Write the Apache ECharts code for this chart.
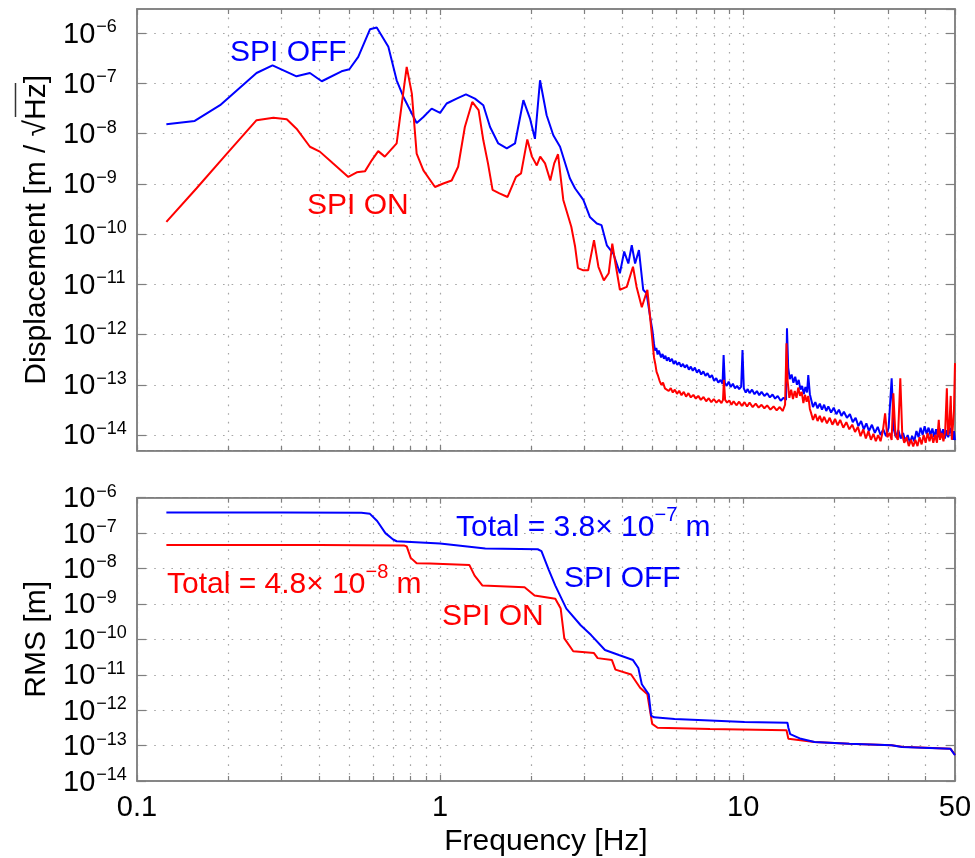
<!DOCTYPE html>
<html><head><meta charset="utf-8">
<script src="https://cdn.jsdelivr.net/npm/echarts@6/dist/echarts.min.js"></script>
<style>html,body{margin:0;padding:0;background:#fff}#c{width:975px;height:858px}</style>
</head><body><div id="c"></div>
<script>
// ---------- DATA ----------
// Top panel: displacement spectrum [m/sqrt(Hz)], pairs [frequency Hz, value]
const psdOff = [[0.125,1.55e-8],[0.155,1.8e-8],[0.188,3.7e-8],[0.248,1.62e-7],[0.28,2.29e-7],[0.336,1.39e-7],[0.372,1.62e-7],[0.407,1.11e-7],[0.473,1.75e-7],[0.502,1.92e-7],[0.537,3.39e-7],[0.587,1.2e-6],[0.618,1.3e-6],[0.675,5.4e-7],[0.719,1.16e-7],[0.757,5.4e-8],[0.837,1.64e-8],[0.881,2.16e-8],[0.938,3.16e-8],[1.0,2.6e-8],[1.051,4.0e-8],[1.134,5.0e-8],[1.217,6.1e-8],[1.303,5.0e-8],[1.389,3.7e-8],[1.462,1.36e-8],[1.556,6.4e-9],[1.66,5.1e-9],[1.767,6.4e-9],[1.883,4.65e-8],[1.98,2.0e-8],[2.056,7.9e-9],[2.137,1.16e-7],[2.247,2.33e-8],[2.364,9.3e-9],[2.488,5.5e-9],[2.68,1.3e-9],[2.79,8.1e-10],[2.97,4.8e-10],[3.12,2.2e-10],[3.29,1.63e-10],[3.41,1.51e-10],[3.55,6.0e-11],[3.73,4.1e-11],[3.92,1.66e-11],[4.05,4.5e-11],[4.18,2.6e-11],[4.29,6.0e-11],[4.40,2.6e-11],[4.53,4.8e-11],[4.68,7.8e-12],[4.80,6.6e-12],[4.93,2.3e-12],
[5.02,1.2e-12],[5.08,6.5e-13],[5.12,4.8e-13],[5.17,5.4e-13],[5.22,4.0e-13],[5.27,4.8e-13],[5.31,4.4e-13],[5.36,3.5e-13],[5.42,4.1e-13],[5.48,3.3e-13],[5.54,3.8e-13],[5.6,3.0e-13],[5.67,3.5e-13],[5.74,2.9e-13],[5.82,3.3e-13],[5.9,2.6e-13],[5.98,3.0e-13],[6.06,2.5e-13],[6.15,2.8e-13],[6.24,2.3e-13],[6.33,2.6e-13],[6.42,2.2e-13],[6.52,2.5e-13],[6.62,2.0e-13],[6.72,2.3e-13],[6.82,1.9e-13],[6.93,2.2e-13],[7.04,1.75e-13],[7.15,2.0e-13],[7.27,1.6e-13],[7.39,1.85e-13],[7.51,1.5e-13],[7.63,1.7e-13],[7.76,1.4e-13],[7.89,1.55e-13],[8.02,1.2e-13],[8.15,1.35e-13],[8.28,1.1e-13],[8.42,1.25e-13],[8.55,1.05e-13],[8.62,3.9e-13],[8.7,1.1e-13],[8.82,9.5e-14],[8.96,1.15e-13],[9.1,9.0e-14],[9.25,1.05e-13],[9.4,8.5e-14],[9.55,9.5e-14],[9.7,8.2e-14],[9.85,9.2e-14],[9.95,4.9e-13],[10.05,8.5e-14],[10.2,7.0e-14],[10.35,8.2e-14],[10.5,6.8e-14],[10.7,8.0e-14],[10.9,6.5e-14],[11.1,7.5e-14],[11.3,6.2e-14],[11.5,7.2e-14],[11.75,6.0e-14],[12.0,6.8e-14],[12.25,5.6e-14],[12.5,6.4e-14],[12.75,5.3e-14],[13.0,6.0e-14],[13.3,4.8e-14],[13.6,5.5e-14],[13.85,5.0e-14],[13.95,1.33e-12],[14.08,2.2e-13],[14.25,1.3e-13],[14.45,1.6e-13],[14.65,1.1e-13],[14.85,1.45e-13],[15.05,1.0e-13],[15.25,1.25e-13],[15.45,8.0e-14],[15.65,9.5e-14],[15.85,6.5e-14],[16.05,9e-14],[16.25,7e-14],[16.4,1.56e-13],[16.6,6.5e-14],[16.8,4.8e-14],[17.0,3.6e-14],[17.3,4.5e-14],[17.6,3.4e-14],[17.9,4.2e-14],[18.2,3.2e-14],[18.5,4.0e-14],[18.8,3.0e-14],[19.1,3.7e-14],[19.5,2.8e-14],[19.9,3.5e-14],[20.3,2.6e-14],[20.7,3.2e-14],[21.1,2.4e-14],[21.5,2.9e-14],[22.0,2.2e-14],[22.5,2.6e-14],[23.0,1.8e-14],[23.5,2.2e-14],[24.0,1.5e-14],[24.5,1.9e-14],[25.0,1.3e-14],[25.5,1.7e-14],[26.0,1.2e-14],[26.6,1.6e-14],[27.2,1.1e-14],[27.8,1.45e-14],[28.4,1.0e-14],[29.0,1.3e-14],[29.6,9.5e-15],[30.2,1.4e-14],[30.9,1.35e-13],[31.4,1.3e-14],[31.9,9e-15],[32.5,1.25e-14],[33.1,8.5e-15],[33.7,1.1e-14],[34.3,7.5e-15],[34.9,1.0e-14],[35.5,7.0e-15],[36.1,9.5e-15],[36.7,7.5e-15],[37.3,1.2e-14],[37.9,9e-15],[38.5,1.4e-14],[39.1,1.0e-14],[39.7,1.5e-14],[40.3,1.05e-14],[40.9,1.4e-14],[41.5,1.0e-14],[42.1,1.35e-14],[42.7,9e-15],[43.3,1.3e-14],[43.9,9e-15],[44.5,1.35e-14],[45.1,9.5e-15],[45.7,1.3e-14],[46.3,8.5e-15],[46.9,1.25e-14],[47.5,9e-15],[48.1,1.4e-14],[48.7,1.5e-14],[49.2,8e-15],[49.6,1.2e-14],[50,7.9e-15]];

const psdOn = [[0.125,1.76e-10],[0.157,8.1e-10],[0.198,4.0e-9],[0.248,1.86e-8],[0.282,2.09e-8],[0.312,1.95e-8],[0.336,1.26e-8],[0.372,5.5e-9],[0.401,4.4e-9],[0.443,2.57e-9],[0.498,1.38e-9],[0.531,1.7e-9],[0.565,1.78e-9],[0.595,2.95e-9],[0.625,4.5e-9],[0.657,3.5e-9],[0.719,6.4e-9],[0.748,4.0e-8],[0.776,2.14e-7],[0.807,6.3e-8],[0.837,4.0e-9],[0.881,1.86e-9],[0.962,8.7e-10],[1.025,1.02e-9],[1.092,1.17e-9],[1.147,2.2e-9],[1.207,1.36e-8],[1.277,4.3e-8],[1.34,2.95e-8],[1.389,7.4e-9],[1.439,2.57e-9],[1.49,7.6e-10],[1.57,6.5e-10],[1.67,5.5e-10],[1.78,1.38e-9],[1.85,1.62e-9],[1.94,7.7e-9],[2.01,3.5e-9],[2.085,2.34e-9],[2.14,3.5e-9],[2.22,2.57e-9],[2.31,1.17e-9],[2.38,2.57e-9],[2.45,3.9e-9],[2.55,4.8e-10],[2.71,1.4e-10],[2.79,5.6e-11],[2.85,2.1e-11],[2.97,1.9e-11],[3.08,1.9e-11],[3.22,7.6e-11],[3.33,2.24e-11],[3.47,1.2e-11],[3.60,1.66e-11],[3.70,6.5e-11],[3.79,2.6e-11],[3.92,7.8e-12],[4.13,8.9e-12],[4.33,2.24e-11],[4.45,8.9e-12],[4.63,3.5e-12],[4.83,7.8e-12],
[4.98,1.23e-12],[5.03,6.5e-13],[5.08,3.5e-13],[5.13,2.6e-13],[5.18,1.8e-13],[5.24,1.5e-13],[5.3,1.2e-13],[5.37,1.0e-13],[5.44,1.1e-13],[5.52,8.5e-14],[5.6,9.0e-14],[5.68,7.5e-14],[5.77,8.6e-14],[5.86,7.0e-14],[5.95,8.0e-14],[6.05,6.6e-14],[6.15,7.6e-14],[6.26,6.2e-14],[6.37,7.2e-14],[6.48,5.8e-14],[6.6,6.8e-14],[6.72,5.6e-14],[6.85,6.3e-14],[6.98,5.3e-14],[7.11,6.0e-14],[7.25,5.0e-14],[7.4,5.7e-14],[7.55,4.7e-14],[7.7,5.4e-14],[7.85,4.5e-14],[8.0,5.2e-14],[8.16,4.4e-14],[8.32,5.0e-14],[8.48,4.3e-14],[8.58,5.0e-14],[8.64,1.25e-13],[8.72,5.0e-14],[8.85,4.4e-14],[9.0,4.9e-14],[9.15,4.0e-14],[9.3,4.7e-14],[9.5,3.9e-14],[9.7,4.6e-14],[9.9,3.8e-14],[10.1,4.5e-14],[10.3,3.7e-14],[10.5,4.4e-14],[10.75,3.6e-14],[11.0,4.2e-14],[11.25,3.5e-14],[11.5,4.0e-14],[11.75,3.4e-14],[12.0,3.9e-14],[12.3,3.2e-14],[12.6,3.7e-14],[12.9,3.1e-14],[13.2,3.6e-14],[13.5,3.0e-14],[13.75,4.0e-14],[13.9,6.7e-13],[14.02,1.2e-13],[14.2,5.5e-14],[14.4,8.0e-14],[14.6,5.2e-14],[14.8,7.5e-14],[15.0,5.5e-14],[15.2,8.8e-14],[15.4,6e-14],[15.6,7.2e-14],[15.8,4.3e-14],[16.0,6.3e-14],[16.2,4.6e-14],[16.4,6.0e-14],[16.6,3.3e-14],[16.8,2.6e-14],[17.0,2.0e-14],[17.3,2.6e-14],[17.6,1.9e-14],[17.9,2.4e-14],[18.2,1.8e-14],[18.5,2.3e-14],[18.9,1.7e-14],[19.3,2.2e-14],[19.7,1.6e-14],[20.1,2.1e-14],[20.5,1.55e-14],[20.9,2.0e-14],[21.4,1.4e-14],[21.9,1.8e-14],[22.4,1.3e-14],[22.9,1.6e-14],[23.4,1.15e-14],[23.9,1.45e-14],[24.4,9.5e-15],[24.9,1.3e-14],[25.4,8.5e-15],[25.9,1.2e-14],[26.4,8e-15],[26.9,1.05e-14],[27.4,7.5e-15],[27.9,1.0e-14],[28.4,7.5e-15],[28.9,1.2e-14],[29.4,2.7e-14],[29.9,9e-15],[30.4,1.1e-14],[30.9,8e-15],[31.3,6.8e-14],[31.8,1.0e-14],[32.4,8e-15],[33.0,1.35e-13],[33.5,1.0e-14],[34.0,7e-15],[34.6,9e-15],[35.2,6e-15],[35.8,8e-15],[36.4,5.9e-15],[37.0,8e-15],[37.6,6e-15],[38.2,9e-15],[38.8,6.5e-15],[39.4,1.0e-14],[40.0,7e-15],[40.6,1.1e-14],[41.2,7.5e-15],[41.8,1.05e-14],[42.4,7e-15],[43.0,1.0e-14],[43.6,7e-15],[44.2,2.0e-14],[44.6,8e-15],[45.2,1.1e-14],[45.8,7.5e-15],[46.4,1.2e-14],[47.0,8.5e-14],[47.4,1.0e-14],[47.9,1.5e-14],[48.4,6e-14],[48.8,8e-15],[49.2,1.5e-14],[49.6,3e-14],[50,2.7e-13]];

// Bottom panel: cumulative RMS [m]
const rmsOff = [[0.125,3.8e-7],[0.3,3.8e-7],[0.55,3.75e-7],[0.587,3.5e-7],[0.62,2.2e-7],[0.66,1.0e-7],[0.70,6.6e-8],[0.719,5.9e-8],[1.0,5.1e-8],[1.41,3.7e-8],[2.1,3.5e-8],[2.16,3.1e-8],[2.28,9.5e-9],[2.40,3.3e-9],[2.61,7.4e-10],[2.91,2.5e-10],[3.15,1.32e-10],[3.50,5.0e-11],[3.89,3.6e-11],[4.33,2.6e-11],[4.51,1.55e-11],[4.63,5.4e-12],[4.88,2.8e-12],[4.97,7.0e-13],[5.08,6.3e-13],[5.94,5.6e-13],[7.77,5.1e-13],[10.1,4.6e-13],[14.0,4.4e-13],[14.1,3.2e-13],[14.3,2.1e-13],[15.5,1.55e-13],[17.2,1.26e-13],[22.4,1.12e-13],[30.9,1.02e-13],[33.4,9.1e-14],[48.3,8.1e-14],[50,5.4e-14]];

const rmsOn = [[0.125,4.6e-8],[0.4,4.6e-8],[0.76,4.5e-8],[0.776,4.2e-8],[0.80,2.0e-8],[0.837,1.4e-8],[0.926,1.38e-8],[1.25,1.25e-8],[1.30,6.3e-9],[1.38,3.3e-9],[1.90,2.95e-9],[2.05,1.74e-9],[2.40,1.41e-9],[2.5,7.4e-10],[2.57,1.07e-10],[2.75,4.6e-11],[3.22,4.1e-11],[3.31,2.95e-11],[3.69,2.6e-11],[3.79,1.4e-11],[4.27,1.02e-11],[4.57,4.3e-12],[4.83,2.8e-12],[5.01,4.1e-13],[5.22,3.2e-13],[7.77,2.95e-13],[13.9,2.7e-13],[14.1,1.55e-13],[17.2,1.26e-13],[22.4,1.12e-13],[30.9,1.02e-13],[33.4,9.3e-14],[48.3,8.2e-14],[50,5.5e-14]];

const xMin = 0.1, xMax = 50;
const topYMin = Math.pow(10, -14.313), topYMax = Math.pow(10, -5.516);
const botYMin = 1e-14, botYMax = 1e-6;

// ---------- CHART ----------
const FONT = 'Liberation Sans';
const BLUE = '#0000ff', RED = '#ff0000';
const GRIDC = '#a6a6a6', FRAME = '#7f7f7f';
const dots = { color: GRIDC, width: 1.2, type: [1.6, 7] };

function yLabel(v) {
  const e = Math.round(Math.log10(v));
  return '{b|10}{s|' + (e < 0 ? '\u2212' : '') + Math.abs(e) + '}';
}
const yRich = {
  b: { fontSize: 29, fontFamily: FONT, color: '#000', lineHeight: 30, padding: [3, 1, 0, 0] },
  s: { fontSize: 18, fontFamily: FONT, color: '#000', verticalAlign: 'top', lineHeight: 1 }
};

function xAxisDef(grid, pos, labels) {
  return {
    type: 'log', logBase: 10, gridIndex: grid, position: pos, min: xMin, max: xMax,
    axisLine: { show: true, lineStyle: { color: FRAME, width: 1.5 } },
    axisTick: { show: true, inside: true, length: 6, lineStyle: { color: FRAME, width: 1.2 } },
    minorTick: { show: true, splitNumber: 9, length: 5, lineStyle: { color: FRAME, width: 1.2 } },
    splitLine: { show: pos === 'bottom', lineStyle: dots },
    minorSplitLine: { show: pos === 'bottom', lineStyle: dots },
    axisLabel: {
      show: labels, fontSize: 29, fontFamily: FONT, color: '#000', margin: 12,
      showMinLabel: true, showMaxLabel: true, hideOverlap: false,
      formatter: v => String(+(+v).toPrecision(3))
    },
    name: (labels && pos === 'bottom') ? 'Frequency [Hz]' : '',
    nameLocation: 'middle', nameGap: 46,
    nameTextStyle: { fontSize: 30, fontFamily: FONT, color: '#000' }
  };
}
function yAxisDef(grid, pos, min, max, name, gap) {
  return {
    type: 'log', logBase: 10, gridIndex: grid, position: pos, min: min, max: max,
    axisLine: { show: true, lineStyle: { color: FRAME, width: 1.5 } },
    axisTick: { show: true, inside: true, length: 9, lineStyle: { color: FRAME, width: 1.2 } },
    minorTick: { show: false },
    splitLine: { show: pos === 'left', lineStyle: dots },
    axisLabel: {
      show: pos === 'left', align: 'left', margin: 74, formatter: yLabel, rich: yRich,
      hideOverlap: false,
      showMinLabel: min === botYMin, showMaxLabel: max === botYMax
    },
    name: pos === 'left' ? name : '',
    nameLocation: 'middle', nameGap: gap, nameRotate: 90,
    nameTextStyle: { fontSize: 30, fontFamily: FONT, color: '#000' }
  };
}

const chart = echarts.init(document.getElementById('c'), null, { renderer: 'canvas' });
const txt = (x, y, text, color, rich) => ({
  type: 'text', x: x, y: y, z: 100,
  style: { text: text, fill: color, font: '30px "' + FONT + '"', verticalAlign: 'middle', align: 'left', rich: rich }
});
const annRich = c => ({
  a: { fontSize: 30, fontFamily: FONT, fill: c, color: c, lineHeight: 46 },
  s: { fontSize: 20, fontFamily: FONT, fill: c, color: c, verticalAlign: 'top', lineHeight: 20 }
});
const lineSeries = (xi, yi, data, color) => ({
  type: 'line', xAxisIndex: xi, yAxisIndex: yi, data: data, showSymbol: false,
  lineStyle: { color: color, width: 2 }, itemStyle: { color: color }
});

chart.setOption({
  animation: false,
  backgroundColor: '#fff',
  grid: [
    { left: 137, right: 20, top: 9, height: 441.7, show: true, borderColor: FRAME, borderWidth: 1.5, backgroundColor: 'transparent' },
    { left: 137, right: 20, top: 497.7, height: 285, show: true, borderColor: FRAME, borderWidth: 1.5, backgroundColor: 'transparent' }
  ],
  xAxis: [
    xAxisDef(0, 'bottom', false),
    xAxisDef(0, 'top', false),
    xAxisDef(1, 'bottom', true),
    xAxisDef(1, 'top', false)
  ],
  yAxis: [
    yAxisDef(0, 'left', topYMin, topYMax, 'Displacement [m / \u221AHz]', 84),
    yAxisDef(0, 'right', topYMin, topYMax, '', 0),
    yAxisDef(1, 'left', botYMin, botYMax, 'RMS [m]', 84),
    yAxisDef(1, 'right', botYMin, botYMax, '', 0)
  ],
  series: [
    lineSeries(0, 0, psdOff, BLUE),
    lineSeries(0, 0, psdOn, RED),
    lineSeries(2, 2, rmsOn, RED),
    lineSeries(2, 2, rmsOff, BLUE)
  ],
  graphic: [
    txt(230, 53, 'SPI OFF', BLUE),
    txt(307, 206, 'SPI ON', RED),
    txt(456, 528, '{a|Total = 3.8\u00D7 10}{s|\u22127}{a| m}', BLUE, annRich(BLUE)),
    txt(564, 579, 'SPI OFF', BLUE),
    txt(167, 585, '{a|Total = 4.8\u00D7 10}{s|\u22128}{a| m}', RED, annRich(RED)),
    txt(442, 617, 'SPI ON', RED),
    { type: 'line', z: 100, shape: { x1: 15.5, y1: 83, x2: 15.5, y2: 117 }, style: { stroke: '#333', lineWidth: 1.5 } }
  ]
});
</script></body></html>
